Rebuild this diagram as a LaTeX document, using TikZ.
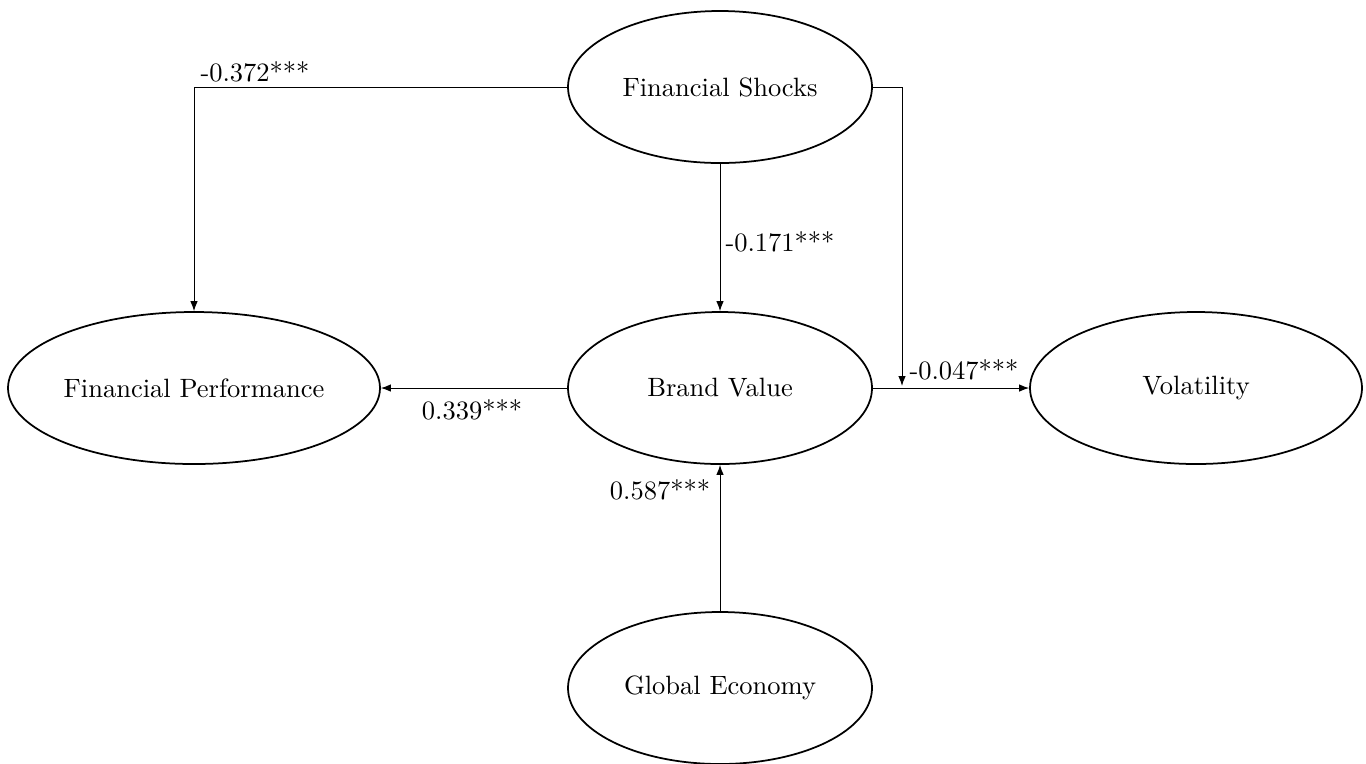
\documentclass[tikz,border=0pt]{standalone}
\usetikzlibrary{shapes.geometric,arrows.meta}
\begin{document}
\begin{tikzpicture}[x=0.4pt,y=-0.4pt,
  every node/.style={font=\fontsize{10.6}{13}\selectfont},
  latent/.style={draw,ellipse,line width=0.7pt,inner sep=0pt,minimum height=60.8pt},
  path/.style={-{Latex[length=4pt,width=3pt]},line width=0.4pt},
  lab/.style={inner sep=0pt}]
\useasboundingbox (0,0) rectangle (1366,763);
\node[latent,minimum width=121.6pt] (fs) at (720,87) {Financial Shocks};
\node[latent,minimum width=121.6pt] (bv) at (720,388) {Brand Value};
\node[latent,minimum width=148.8pt] (fp) at (194,388) {Financial Performance};
\node[latent,minimum width=132.8pt] (vol) at (1196,388) {Volatility};
\node[latent,minimum width=121.6pt] (ge) at (720,688) {Global Economy};
\coordinate (fscorner) at (902,87);
\coordinate (fsend) at (902,386);
\draw[path] (fs.west) -| (fp.north);
\draw[path] (fs.south) -- (bv.north);
\draw[path] (fs.east) -- (fscorner) -- (fsend);
\draw[path] (bv.west) -- (fp.east);
\draw[path] (bv.east) -- (vol.west);
\draw[path] (ge.north) -- (bv.south);
\node[lab] (l1) at (255,72) {-0.372***};
\node[lab] (l2) at (780,242) {-0.171***};
\node[lab] (l3) at (964,370) {-0.047***};
\node[lab] (l4) at (472,410) {0.339***};
\node[lab] (l5) at (660,490) {0.587***};
\end{tikzpicture}
\end{document}
